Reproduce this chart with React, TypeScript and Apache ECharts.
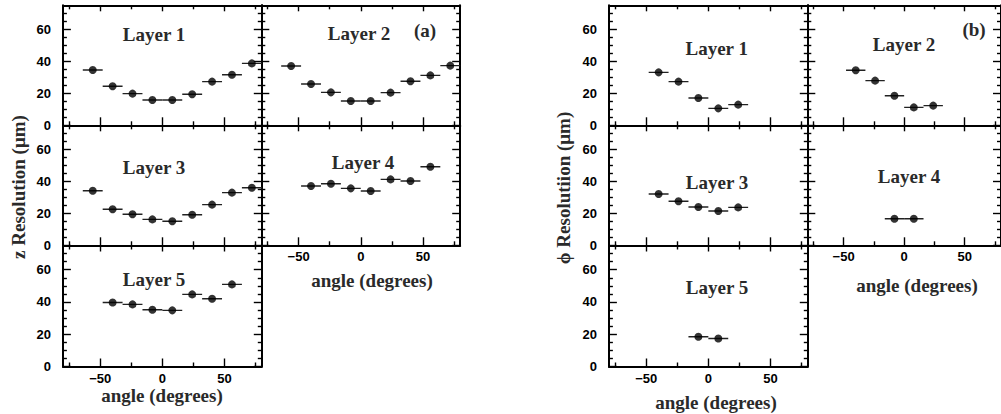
import React, { useEffect, useRef } from "react";
import * as echarts from "echarts";

// ---------- data ----------
const angles9 = [-56, -40, -24, -8, 8, 24, 40, 56, 72];
const angles7 = [-40, -24, -8, 8, 24, 40, 56];
const angles5 = [-40, -24, -8, 8, 24];
const angles2 = [-8, 8];
const binHalfWidth = 8;

const zLayer1 = [34.6, 24.4, 19.8, 15.8, 15.8, 19.4, 27.3, 31.6, 38.7];
const zLayer2 = [37.1, 25.8, 20.6, 15.2, 15.2, 20.4, 27.5, 31.2, 37.3];
const zLayer3 = [34.1, 22.5, 19.4, 16.2, 15.0, 19.1, 25.4, 32.9, 36.0];
const zLayer4 = [37.1, 38.5, 35.6, 33.9, 41.2, 40.2, 49.1];
const zLayer5 = [39.7, 38.5, 35.2, 34.8, 44.7, 42.0, 50.9];

const phiLayer1 = [33.1, 27.3, 17.1, 10.6, 12.9];
const phiLayer2 = [34.4, 27.9, 18.5, 11.2, 12.3];
const phiLayer3 = [32.1, 27.5, 23.9, 21.4, 23.7];
const phiLayer4 = [16.6, 16.6];
const phiLayer5 = [18.4, 17.4];

const layerNames = ["Layer 1", "Layer 2", "Layer 3", "Layer 4", "Layer 5"];

const xMajorTicks = [-50, 0, 50];
const xMinorTicks = [-75, -25, 25, 75];
const yMajorTicks = [0, 20, 40, 60];
const yMinorTicks = [5, 10, 15, 25, 30, 35, 45, 50, 55, 65, 70];
const xRange = [-80, 80];
const yRange = [0, 75];

// ---------- layout ----------
const PW = 198.9;
const PH = 120;
const pads = [
  { left: 62.9, top: 5.3, h: PH, xs: angles9, ys: zLayer1, name: 0, lx: 154, ly: 34, xl: false, yl: true },
  { left: 261.3, top: 5.3, h: PH, xs: angles9, ys: zLayer2, name: 1, lx: 359, ly: 33, xl: false, yl: false },
  { left: 62.9, top: 125.3, h: PH, xs: angles9, ys: zLayer3, name: 2, lx: 154, ly: 167.7, xl: false, yl: true },
  { left: 261.3, top: 125.3, h: PH, xs: angles7, ys: zLayer4, name: 3, lx: 363, ly: 162.7, xl: true, yl: false },
  { left: 62.9, top: 245.5, h: 121, xs: angles7, ys: zLayer5, name: 4, lx: 154, ly: 279, xl: true, yl: true },
  { left: 608.9, top: 5.3, h: PH, xs: angles5, ys: phiLayer1, name: 0, lx: 716.7, ly: 48.3, xl: false, yl: true },
  { left: 807.3, top: 5.3, h: PH, xs: angles5, ys: phiLayer2, name: 1, lx: 904, ly: 44.3, xl: false, yl: false },
  { left: 608.9, top: 125.3, h: PH, xs: angles5, ys: phiLayer3, name: 2, lx: 717, ly: 182.7, xl: false, yl: true },
  { left: 807.3, top: 125.3, h: PH, xs: angles2, ys: phiLayer4, name: 3, lx: 909, ly: 176, xl: true, yl: false },
  { left: 608.9, top: 245.5, h: 121, xs: angles2, ys: phiLayer5, name: 4, lx: 717, ly: 287.7, xl: true, yl: true },
];

const tickFont = { fontFamily: "'Liberation Sans', Arial, sans-serif", fontWeight: "bold" as const, fontSize: 13, color: "#000" };
const SERIF = "'Liberation Serif', 'Times New Roman', serif";

function fmtX(v: number) {
  return v < 0 ? "\u2212" + Math.abs(v) : String(v);
}

function buildOption() {
  const grid: any[] = [];
  const xAxis: any[] = [];
  const yAxis: any[] = [];
  const series: any[] = [];

  pads.forEach((p, i) => {
    grid.push({ left: p.left, top: p.top, width: PW, height: p.h });
    const xBase = xAxis.length;
    const yBase = yAxis.length;
    const mkX = (position: string, ticks: number[], len: number, line: boolean, labels: boolean) => ({
      type: "value",
      gridIndex: i,
      position,
      min: xRange[0],
      max: xRange[1],
      axisLine: { show: line, onZero: false, lineStyle: { color: "#000", width: 2 } },
      axisTick: { show: true, inside: true, length: len, customValues: ticks, lineStyle: { color: "#000", width: 1.4 } },
      axisLabel: labels
        ? { show: true, customValues: xMajorTicks, formatter: fmtX, margin: 5, ...tickFont }
        : { show: false },
      splitLine: { show: false },
    });
    const mkY = (position: string, ticks: number[], len: number, line: boolean, labels: boolean) => ({
      type: "value",
      gridIndex: i,
      position,
      min: yRange[0],
      max: yRange[1],
      axisLine: { show: line, onZero: false, lineStyle: { color: "#000", width: 2 } },
      axisTick: { show: true, inside: true, length: len, customValues: ticks, lineStyle: { color: "#000", width: 1.4 } },
      axisLabel: labels
        ? { show: true, customValues: yMajorTicks, margin: 12, ...tickFont }
        : { show: false },
      splitLine: { show: false },
    });
    xAxis.push(mkX("bottom", xMajorTicks, 8, true, p.xl));
    xAxis.push(mkX("bottom", xMinorTicks, 4, false, false));
    xAxis.push(mkX("top", xMajorTicks, 6, true, false));
    xAxis.push(mkX("top", xMinorTicks, 4, false, false));
    yAxis.push(mkY("left", yMajorTicks, 8, true, p.yl));
    yAxis.push(mkY("left", yMinorTicks, 4, false, false));
    yAxis.push(mkY("right", yMajorTicks, 8, true, false));
    yAxis.push(mkY("right", yMinorTicks, 4, false, false));

    const errData = p.xs.map((x, k) => [x, p.ys[k], x - binHalfWidth, x + binHalfWidth]);
    series.push({
      type: "custom",
      xAxisIndex: xBase,
      yAxisIndex: yBase,
      clip: true,
      data: errData,
      renderItem: (params: any, api: any) => {
        const y = api.value(1);
        const a = api.coord([api.value(2), y]);
        const b = api.coord([api.value(3), y]);
        return {
          type: "line",
          shape: { x1: a[0], y1: a[1], x2: b[0], y2: b[1] },
          style: { stroke: "#222", lineWidth: 1.4 },
        };
      },
      z: 2,
    });
    series.push({
      type: "scatter",
      xAxisIndex: xBase,
      yAxisIndex: yBase,
      symbol: "circle",
      symbolSize: 8,
      itemStyle: { color: "#000" },
      data: p.xs.map((x, k) => [x, p.ys[k]]),
      clip: true,
      z: 3,
    });
  });

  const txt = (text: string, x: number, y: number, rotation = 0) => ({
    type: "text",
    x,
    y,
    rotation,
    style: {
      text,
      font: "bold 19px " + SERIF,
      fontFamily: SERIF,
      fontWeight: "bold",
      fontSize: 19,
      fill: "#2a2a2a",
      align: "center",
      verticalAlign: "middle",
    },
    z: 10,
  });

  const graphic: any[] = [];
  pads.forEach((p) => graphic.push(txt(layerNames[p.name], p.lx, p.ly)));
  graphic.push(txt("(a)", 425, 30));
  graphic.push(txt("(b)", 974, 29));
  graphic.push(txt("angle (degrees)", 372, 280));
  graphic.push(txt("angle (degrees)", 162, 395));
  graphic.push(txt("angle (degrees)", 917, 285));
  graphic.push(txt("angle (degrees)", 716, 402));
  graphic.push(txt("z Resolution (\u03bcm)", 18, 187, Math.PI / 2));
  graphic.push(txt("\u03d5 Resolutiion (\u03bcm)", 563, 188, Math.PI / 2));

  return { animation: false, backgroundColor: "#fff", grid, xAxis, yAxis, series, graphic };
}

export default function App() {
  const ref = useRef<HTMLDivElement>(null);
  useEffect(() => {
    if (!ref.current) return;
    const chart = echarts.init(ref.current, undefined, { renderer: "svg" });
    chart.setOption(buildOption() as any);
    return () => chart.dispose();
  }, []);
  return (
    <div
      ref={ref}
      style={{ position: "absolute", left: 0, top: 0, width: 1001, height: 414, background: "#fff" }}
    />
  );
}
